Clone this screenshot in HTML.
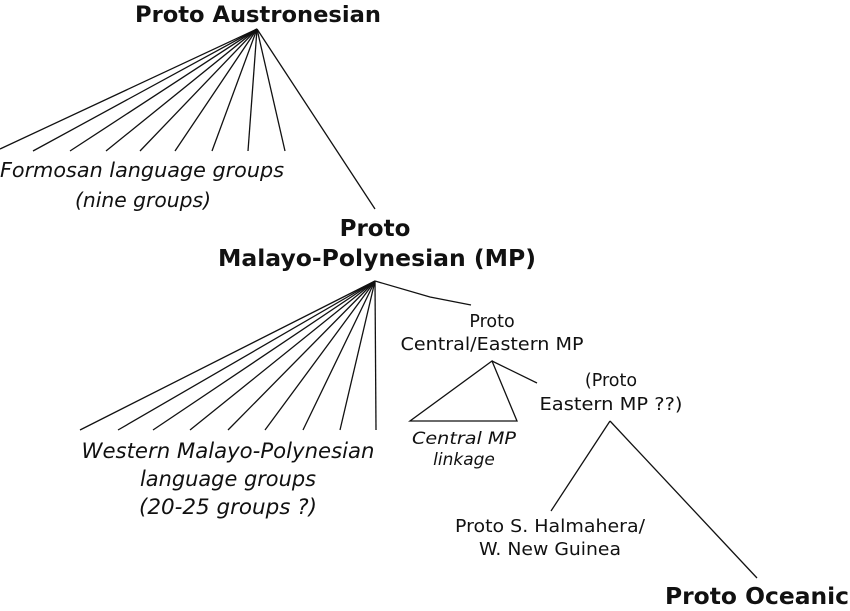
<!DOCTYPE html>
<html><head><style>
body{margin:0;background:#fff;}
svg{display:block;}
text{font-family:"DejaVu Sans","Liberation Sans",sans-serif;fill:#111;text-anchor:middle;}
.b{font-weight:bold;}
.i{font-style:italic;}
</style></head><body>
<svg width="850" height="611" viewBox="0 0 850 611">
<g stroke="#111" stroke-width="1.3" fill="none">
<line x1="257" y1="29" x2="0" y2="149"/>
<line x1="257" y1="29" x2="33" y2="151"/>
<line x1="257" y1="29" x2="70" y2="151"/>
<line x1="257" y1="29" x2="106" y2="151"/>
<line x1="257" y1="29" x2="140" y2="151"/>
<line x1="257" y1="29" x2="175" y2="151"/>
<line x1="257" y1="29" x2="212" y2="151"/>
<line x1="257" y1="29" x2="248" y2="151"/>
<line x1="257" y1="29" x2="285" y2="151"/>
<line x1="257" y1="29" x2="375" y2="209"/>
<line x1="375" y1="281" x2="80" y2="430"/>
<line x1="375" y1="281" x2="118" y2="430"/>
<line x1="375" y1="281" x2="153" y2="430"/>
<line x1="375" y1="281" x2="190" y2="430"/>
<line x1="375" y1="281" x2="228" y2="430"/>
<line x1="375" y1="281" x2="265" y2="430"/>
<line x1="375" y1="281" x2="303" y2="430"/>
<line x1="375" y1="281" x2="340" y2="430"/>
<line x1="375" y1="281" x2="376" y2="430"/>
<polyline points="375,281 430,297 471,305"/>
<polygon points="492,361 410,421 517,421"/>
<line x1="492" y1="361" x2="537" y2="383"/>
<line x1="610" y1="421" x2="551" y2="511"/>
<line x1="610" y1="421" x2="757" y2="578"/>
</g>
<text class="b" x="258" y="22" font-size="22.5" textLength="246" lengthAdjust="spacingAndGlyphs">Proto Austronesian</text>
<text class="i" x="142" y="177" font-size="20" textLength="284" lengthAdjust="spacingAndGlyphs">Formosan language groups</text>
<text class="i" x="143" y="207" font-size="20" textLength="136" lengthAdjust="spacingAndGlyphs">(nine groups)</text>
<text class="b" x="375" y="236" font-size="23">Proto</text>
<text class="b" x="377" y="266" font-size="23.5" textLength="318" lengthAdjust="spacingAndGlyphs">Malayo-Polynesian (MP)</text>
<text class="i" x="228" y="458" font-size="21" textLength="293" lengthAdjust="spacingAndGlyphs">Western Malayo-Polynesian</text>
<text class="i" x="228" y="486" font-size="21" textLength="176" lengthAdjust="spacingAndGlyphs">language groups</text>
<text class="i" x="228" y="514" font-size="21" textLength="178" lengthAdjust="spacingAndGlyphs">(20-25 groups ?)</text>
<text x="492" y="327" font-size="17.5">Proto</text>
<text x="492" y="350" font-size="17.5" textLength="183" lengthAdjust="spacingAndGlyphs">Central/Eastern MP</text>
<text x="611" y="386" font-size="17.5">(Proto</text>
<text x="611" y="410" font-size="17.5" textLength="143" lengthAdjust="spacingAndGlyphs">Eastern MP ??)</text>
<text class="i" x="464" y="444" font-size="17" textLength="104" lengthAdjust="spacingAndGlyphs">Central MP</text>
<text class="i" x="464" y="465" font-size="17">linkage</text>
<text x="550" y="532" font-size="17.5" textLength="190" lengthAdjust="spacingAndGlyphs">Proto S. Halmahera/</text>
<text x="550" y="555" font-size="17.5" textLength="142" lengthAdjust="spacingAndGlyphs">W. New Guinea</text>
<text class="b" x="757" y="604" font-size="23.5" textLength="184" lengthAdjust="spacingAndGlyphs">Proto Oceanic</text>
</svg>
</body></html>
